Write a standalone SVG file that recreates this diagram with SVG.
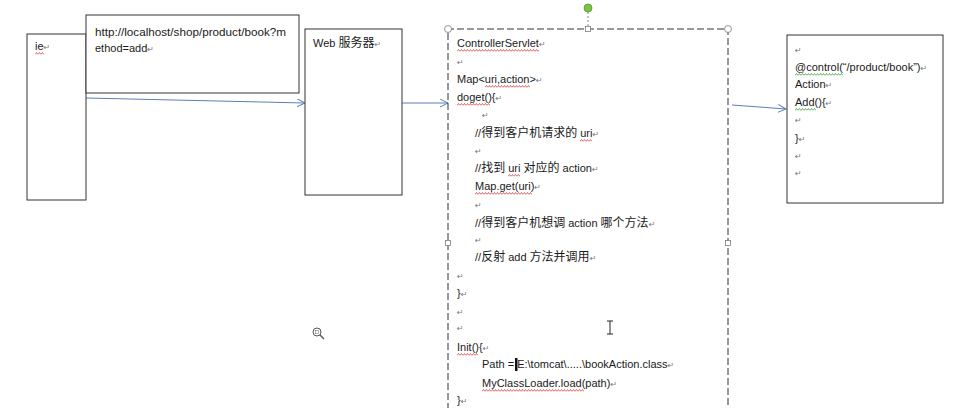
<svg xmlns="http://www.w3.org/2000/svg" width="959" height="408" viewBox="0 0 959 408">
<style>
text{font-family:"Liberation Sans","Noto Sans CJK SC",sans-serif;font-size:11px;fill:#1a1a1a}
.cjk{font-size:12px}
.pm{font-family:"DejaVu Sans",sans-serif;font-size:8px;fill:#777}
.box{fill:#fff;stroke:#333;stroke-width:1}
.conn{fill:none;stroke:#5b7fb5;stroke-width:1}
.red{fill:url(#wr)}
.grn{fill:url(#wg)}
.hnd{fill:#fff;stroke:#7a7a7a;stroke-width:0.8}
</style>
<defs>
<marker id="ah" markerWidth="10" markerHeight="10" refX="8" refY="4" orient="auto" markerUnits="userSpaceOnUse">
<path d="M0,0 L8,4 L0,8" fill="none" stroke="#5b7fb5" stroke-width="1"/>
</marker>
<pattern id="wr" width="3" height="3" patternUnits="userSpaceOnUse">
<path d="M0,2.5 L1.5,0.5 L3,2.5" fill="none" stroke="#e03a3a" stroke-width="0.8"/>
</pattern>
<pattern id="wg" width="3" height="3" patternUnits="userSpaceOnUse">
<path d="M0,2.5 L1.5,0.5 L3,2.5" fill="none" stroke="#3aa03a" stroke-width="0.8"/>
</pattern>
</defs>
<rect width="959" height="408" fill="#fff"/>

<g id="connectors">
<line class="conn" x1="86" y1="98" x2="305" y2="103" marker-end="url(#ah)"/>
<line class="conn" x1="402" y1="103" x2="448" y2="103" marker-end="url(#ah)"/>
<line class="conn" x1="732" y1="105" x2="786" y2="109" marker-end="url(#ah)"/>
</g>

<g id="ie">
<rect class="box" x="27" y="34" width="59" height="166"/>
<text x="35" y="50">ie<tspan class="pm">↵</tspan></text>
<rect class="red" transform="translate(35,52)" width="9" height="3"/>
</g>

<g id="url">
<rect class="box" x="86" y="15" width="213" height="78"/>
<text x="95" y="36" textLength="191" lengthAdjust="spacingAndGlyphs">http://localhost/shop/product/book?m</text>
<text x="95" y="52">ethod=add<tspan class="pm">↵</tspan></text>
</g>

<g id="webserver">
<rect class="box" x="305" y="29" width="97" height="166"/>
<text x="313" y="47">Web <tspan class="cjk">服务器</tspan><tspan class="pm">↵</tspan></text>
</g>

<g id="controller">
<path d="M448,410 V29 H728 V410" fill="none" stroke="#333" stroke-width="1" stroke-dasharray="7 3"/>
<line x1="588" y1="12" x2="588" y2="26" stroke="#888" stroke-width="1" stroke-dasharray="2 2"/>
<circle cx="588" cy="8" r="4" fill="#7cc243" stroke="#5a9a30" stroke-width="0.8"/>
<circle class="hnd" cx="448" cy="29" r="3.5"/>
<circle class="hnd" cx="728" cy="29" r="3.5"/>
<rect class="hnd" x="585.5" y="26.5" width="5" height="5"/>
<rect class="hnd" x="445.5" y="240.5" width="5" height="5"/>
<rect class="hnd" x="725.5" y="240.5" width="5" height="5"/>

<text x="457" y="47">ControllerServlet<tspan class="pm">↵</tspan></text>
<text class="pm" x="457" y="65">↵</text>
<text x="457" y="83">Map&lt;uri,action&gt;<tspan class="pm">↵</tspan></text>
<text x="457" y="101">doget(){<tspan class="pm">↵</tspan></text>
<text class="pm" x="482" y="118">↵</text>
<text x="475" y="137">//<tspan class="cjk">得到客户机请求的</tspan> uri<tspan class="pm">↵</tspan></text>
<text class="pm" x="475" y="154">↵</text>
<text x="475" y="172">//<tspan class="cjk">找到</tspan> uri <tspan class="cjk">对应的</tspan> action<tspan class="pm">↵</tspan></text>
<text x="475" y="190">Map.get(uri)<tspan class="pm">↵</tspan></text>
<text class="pm" x="475" y="208">↵</text>
<text x="475" y="227">//<tspan class="cjk">得到客户机想调</tspan> action <tspan class="cjk">哪个方法</tspan><tspan class="pm">↵</tspan></text>
<text class="pm" x="475" y="243">↵</text>
<text x="475" y="261">//<tspan class="cjk">反射</tspan> add <tspan class="cjk">方法并调用</tspan><tspan class="pm">↵</tspan></text>
<text class="pm" x="457" y="279">↵</text>
<text x="457" y="297">}<tspan class="pm">↵</tspan></text>
<text class="pm" x="457" y="315">↵</text>
<text class="pm" x="457" y="331">↵</text>
<text x="457" y="351">Init(){<tspan class="pm">↵</tspan></text>
<text x="482" y="368">Path = E:\tomcat\.....\bookAction.class<tspan class="pm">↵</tspan></text>
<rect x="515" y="358" width="2.5" height="13" fill="#111"/>
<text x="482" y="387">MyClassLoader.load(path)<tspan class="pm">↵</tspan></text>
<text x="457" y="404">}<tspan class="pm">↵</tspan></text>

<rect class="red" transform="translate(457,49)" width="82" height="3"/>
<rect class="red" transform="translate(485,85)" width="45" height="3"/>
<rect class="red" transform="translate(457,103)" width="33" height="3"/>
<rect class="red" transform="translate(580,139)" width="12" height="3"/>
<rect class="red" transform="translate(508,174)" width="12" height="3"/>
<rect class="red" transform="translate(475,192)" width="57" height="3"/>
<rect class="red" transform="translate(457,353)" width="21" height="3"/>
<rect class="red" transform="translate(482,389)" width="102" height="3"/>
</g>

<g id="action">
<rect class="box" x="787" y="35" width="156" height="168"/>
<text class="pm" x="795" y="53">↵</text>
<text x="795" y="71">@control(“/product/book”)<tspan class="pm">↵</tspan></text>
<text x="795" y="88">Action<tspan class="pm">↵</tspan></text>
<text x="795" y="106">Add(){<tspan class="pm">↵</tspan></text>
<text class="pm" x="795" y="123">↵</text>
<text x="795" y="142">}<tspan class="pm">↵</tspan></text>
<text class="pm" x="795" y="159">↵</text>
<text class="pm" x="795" y="176">↵</text>
<rect class="grn" transform="translate(795,73)" width="48" height="3"/>
<rect class="grn" transform="translate(795,108)" width="21" height="3"/>
</g>

<g id="cursors">
<circle cx="317" cy="332" r="4" fill="#fff" stroke="#555" stroke-width="1"/>
<rect x="315.5" y="330.5" width="3" height="3" fill="none" stroke="#777" stroke-width="0.6"/>
<line x1="320" y1="335" x2="324" y2="339" stroke="#555" stroke-width="1.5"/>
<path d="M607,321 H613 M610,321 V334 M607,334 H613" fill="none" stroke="#222" stroke-width="1"/>
</g>
</svg>
